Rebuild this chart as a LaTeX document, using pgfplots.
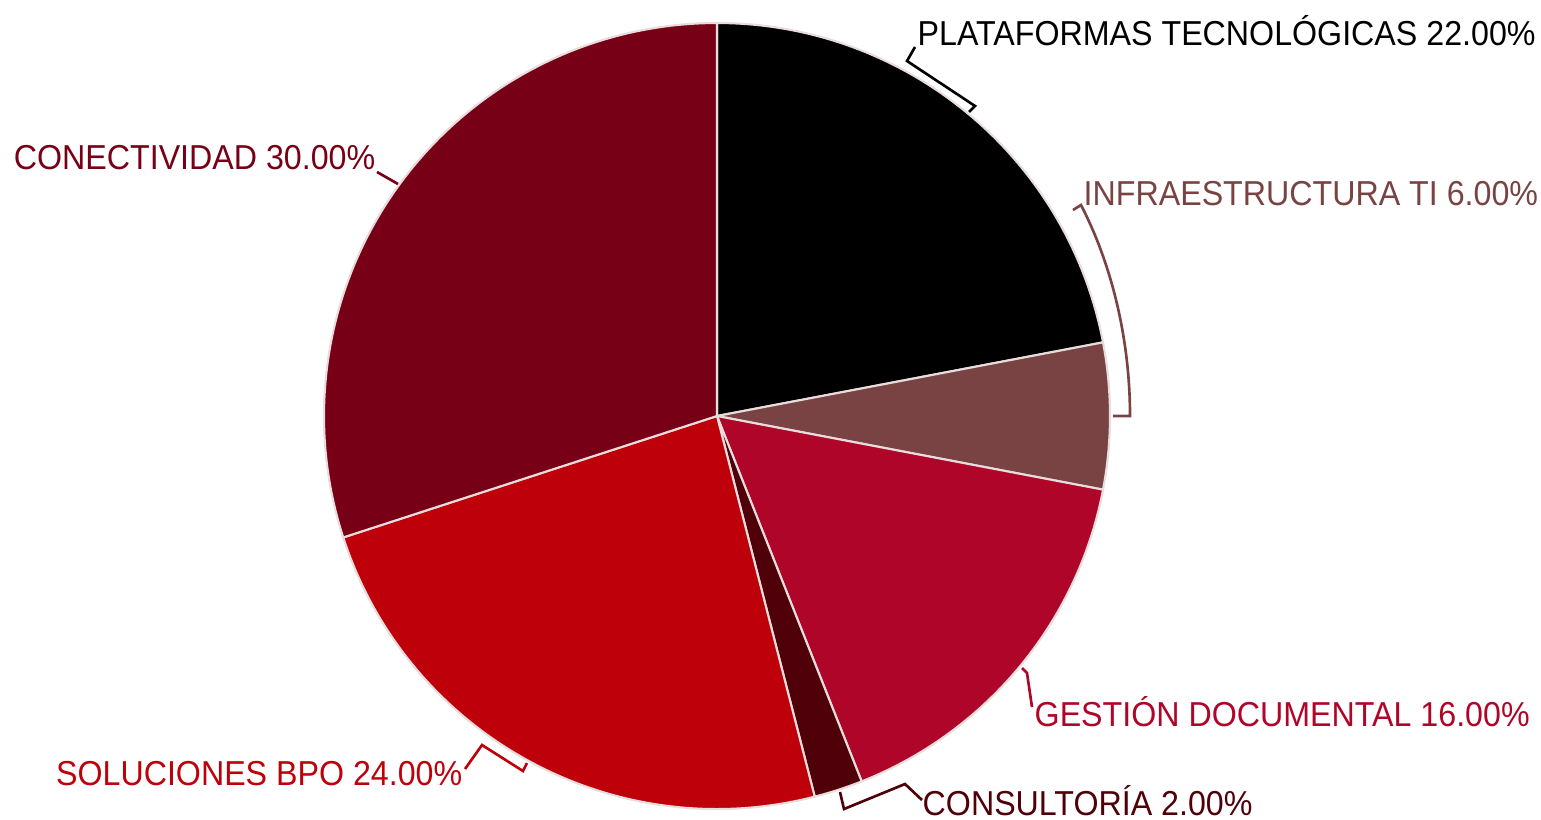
\documentclass[border=0pt]{standalone}
\usepackage{pgfplots}
\pgfplotsset{compat=1.18}
\usepackage{pgfplotstable}
\usepackage{fontspec}
\setmainfont{Liberation Sans}[FakeStretch=0.93]
\definecolor{cPlat}{HTML}{000000}
\definecolor{cInfra}{HTML}{7A4343}
\definecolor{cGest}{HTML}{AF0529}
\definecolor{cCons}{HTML}{4F0009}
\definecolor{cSol}{HTML}{BE000A}
\definecolor{cCon}{HTML}{780016}
\definecolor{edge}{HTML}{E8DCDC}
\pgfplotstableread{
value color
22 cPlat
6 cInfra
16 cGest
2 cCons
24 cSol
30 cCon
}\piedata
\begin{document}
\begin{tikzpicture}[lbl/.style={inner sep=0pt, font=\fontsize{9.85}{12}\selectfont}, ld/.style={line width=0.75pt, line join=miter}]
\begin{axis}[scale only axis, width=15.41cm, height=8.19cm,
  xmin=0, xmax=1541, ymin=0, ymax=819, y dir=reverse,
  hide axis, clip=false]
\pgfmathsetmacro{\cum}{0}
\pgfplotsforeachungrouped \i in {0,...,5}{%
  \pgfplotstablegetelem{\i}{value}\of\piedata \let\v\pgfplotsretval
  \pgfplotstablegetelem{\i}{color}\of\piedata \let\c\pgfplotsretval
  \pgfmathsetmacro{\a}{90-3.6*\cum}%
  \pgfmathsetmacro{\b}{90-3.6*(\cum+\v)}%
  \edef\temp{\noexpand\filldraw[fill=\c, draw=edge, line width=0.6pt, line join=round] (axis cs:717,416) -- ++(\a:3.93cm) arc[start angle=\a, end angle=\b, radius=3.93cm] -- cycle;}%
  \temp
  \pgfmathsetmacro{\cum}{\cum+\v}%
}
% leader lines
\draw[ld, cPlat] (axis cs:915,47) -- (axis cs:907,61) -- (axis cs:975,106) -- (axis cs:969,112);
\draw[ld, cInfra] (axis cs:1073,210) -- (axis cs:1081,205) .. controls (axis cs:1112,265) and (axis cs:1130,340) .. (axis cs:1130,416) -- (axis cs:1113,416);
\draw[ld, cGest] (axis cs:1022,668) -- (axis cs:1027,673) -- (axis cs:1032,707);
\draw[ld, cCons] (axis cs:840,792) -- (axis cs:844,809) -- (axis cs:905,784) -- (axis cs:922,800);
\draw[ld, cSol] (axis cs:527,763) -- (axis cs:523,771) -- (axis cs:482,745) -- (axis cs:465,769);
\draw[ld, cCon] (axis cs:398,184) -- (axis cs:377,172);
% labels
\node[lbl, anchor=base west, text=cPlat] at (axis cs:917,45) {PLATAFORMAS TECNOLÓGICAS 22.00\%};
\node[lbl, anchor=base west, text=cInfra] at (axis cs:1083,205) {INFRAESTRUCTURA TI 6.00\%};
\node[lbl, anchor=base west, text=cGest] at (axis cs:1034,726) {GESTIÓN DOCUMENTAL 16.00\%};
\node[lbl, anchor=base west, text=cCons] at (axis cs:922,815) {CONSULTORÍA 2.00\%};
\node[lbl, anchor=base east, text=cSol] at (axis cs:463,785) {SOLUCIONES BPO 24.00\%};
\node[lbl, anchor=base east, text=cCon] at (axis cs:376,169) {CONECTIVIDAD 30.00\%};
\end{axis}
\pgfresetboundingbox
\path (0,0) rectangle (15.41cm,8.19cm);
\end{tikzpicture}
\end{document}
